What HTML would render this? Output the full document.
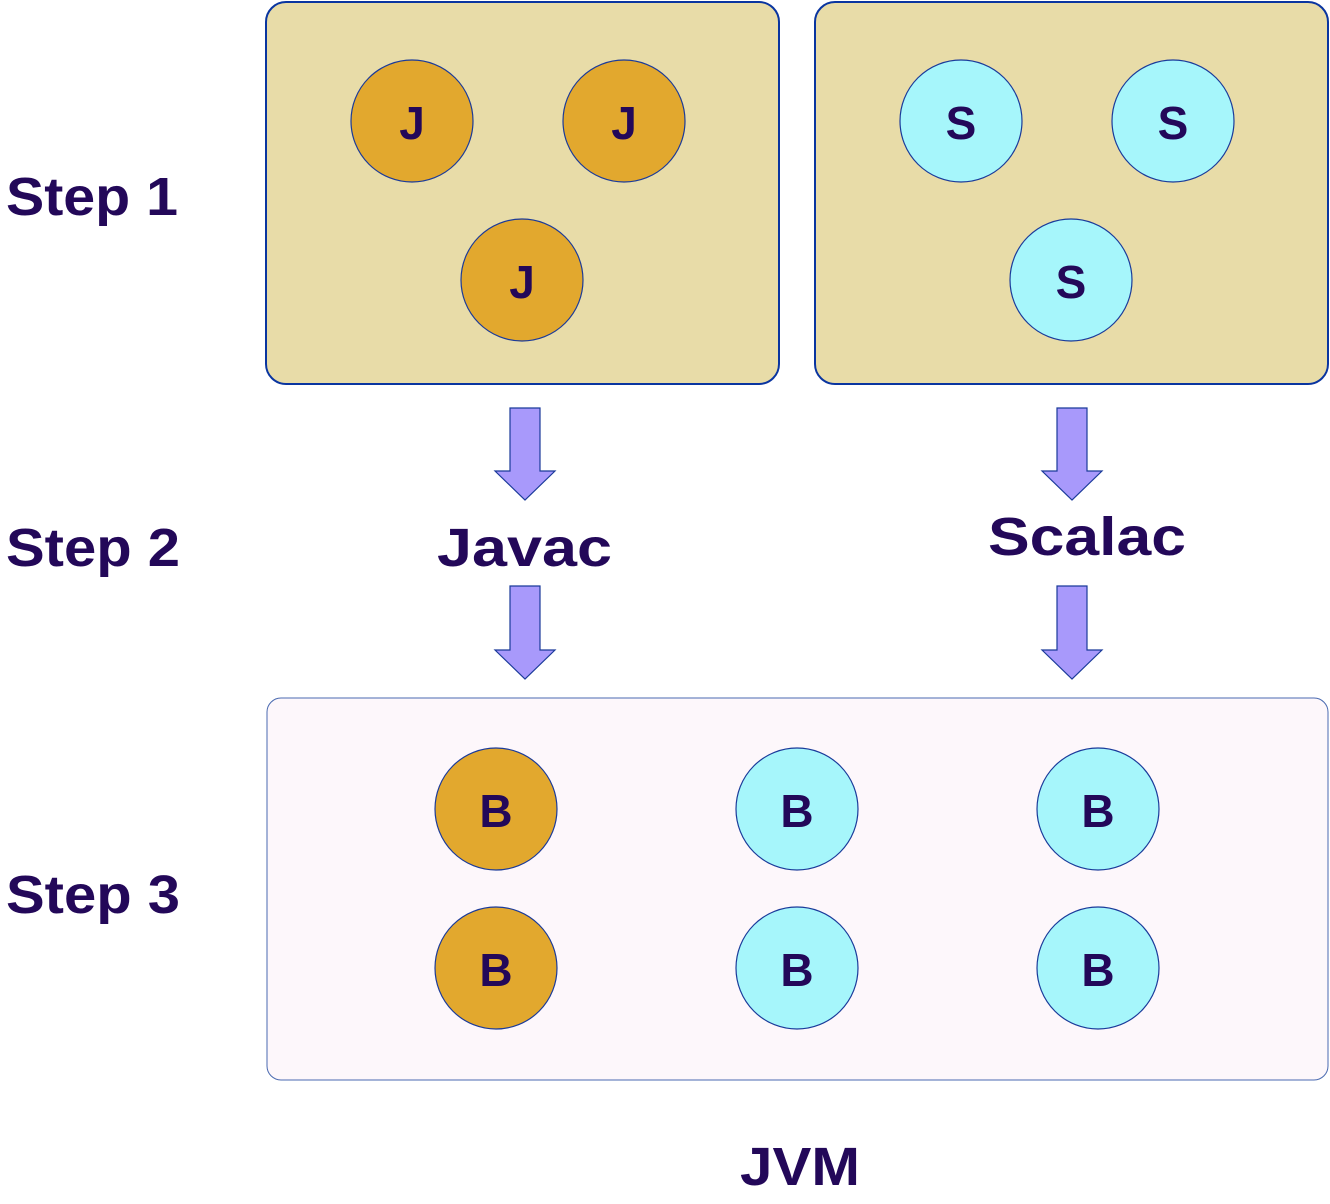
<!DOCTYPE html>
<html><head><style>body{margin:0;background:#fff}svg{display:block}</style></head><body>
<svg width="1330" height="1204" viewBox="0 0 1330 1204" xmlns="http://www.w3.org/2000/svg" font-family="Liberation Sans, sans-serif" font-weight="bold" fill="#230859">
<rect x="266" y="2" width="513" height="382" rx="20" fill="#e8dca8" stroke="#0a35a0" stroke-width="2"/>
<rect x="815" y="2" width="513" height="382" rx="20" fill="#e8dca8" stroke="#0a35a0" stroke-width="2"/>
<rect x="267" y="698" width="1061" height="382" rx="14" fill="#fdf7fb" stroke="#4a6ab0" stroke-width="1"/>
<g stroke="#1a3a9a" stroke-width="1.2">
<circle cx="412" cy="121" r="61" fill="#e2a82e"/><circle cx="624" cy="121" r="61" fill="#e2a82e"/><circle cx="522" cy="280" r="61" fill="#e2a82e"/>
<circle cx="961" cy="121" r="61" fill="#a6f6fb"/><circle cx="1173" cy="121" r="61" fill="#a6f6fb"/><circle cx="1071" cy="280" r="61" fill="#a6f6fb"/>
<circle cx="496" cy="809" r="61" fill="#e2a82e"/><circle cx="797" cy="809" r="61" fill="#a6f6fb"/><circle cx="1098" cy="809" r="61" fill="#a6f6fb"/>
<circle cx="496" cy="968" r="61" fill="#e2a82e"/><circle cx="797" cy="968" r="61" fill="#a6f6fb"/><circle cx="1098" cy="968" r="61" fill="#a6f6fb"/>
<g fill="#a899fb">
<path d="M510 408H540V471H555L525 500L495 471H510Z"/>
<path d="M510 586H540V650H555L525 679L495 650H510Z"/>
<path d="M1057 408H1087V471H1102L1072 500L1042 471H1057Z"/>
<path d="M1057 586H1087V650H1102L1072 679L1042 650H1057Z"/>
</g></g>
<g font-size="46" text-anchor="middle">
<text x="412" y="139">J</text><text x="624" y="139">J</text><text x="522" y="298">J</text>
<text x="961" y="139">S</text><text x="1173" y="139">S</text><text x="1071" y="298">S</text>
<text x="496" y="827">B</text><text x="797" y="827">B</text><text x="1098" y="827">B</text>
<text x="496" y="986">B</text><text x="797" y="986">B</text><text x="1098" y="986">B</text>
</g>
<g font-size="54" lengthAdjust="spacingAndGlyphs">
<text x="6" y="215" textLength="172" lengthAdjust="spacingAndGlyphs">Step 1</text>
<text x="6" y="566" textLength="174" lengthAdjust="spacingAndGlyphs">Step 2</text>
<text x="6" y="913" textLength="174" lengthAdjust="spacingAndGlyphs">Step 3</text>
<text x="437" y="566" textLength="175" lengthAdjust="spacingAndGlyphs">Javac</text>
<text x="988" y="555" textLength="198" lengthAdjust="spacingAndGlyphs">Scalac</text>
<text x="740" y="1185" textLength="120" lengthAdjust="spacingAndGlyphs">JVM</text>
</g>
</svg>
</body></html>
